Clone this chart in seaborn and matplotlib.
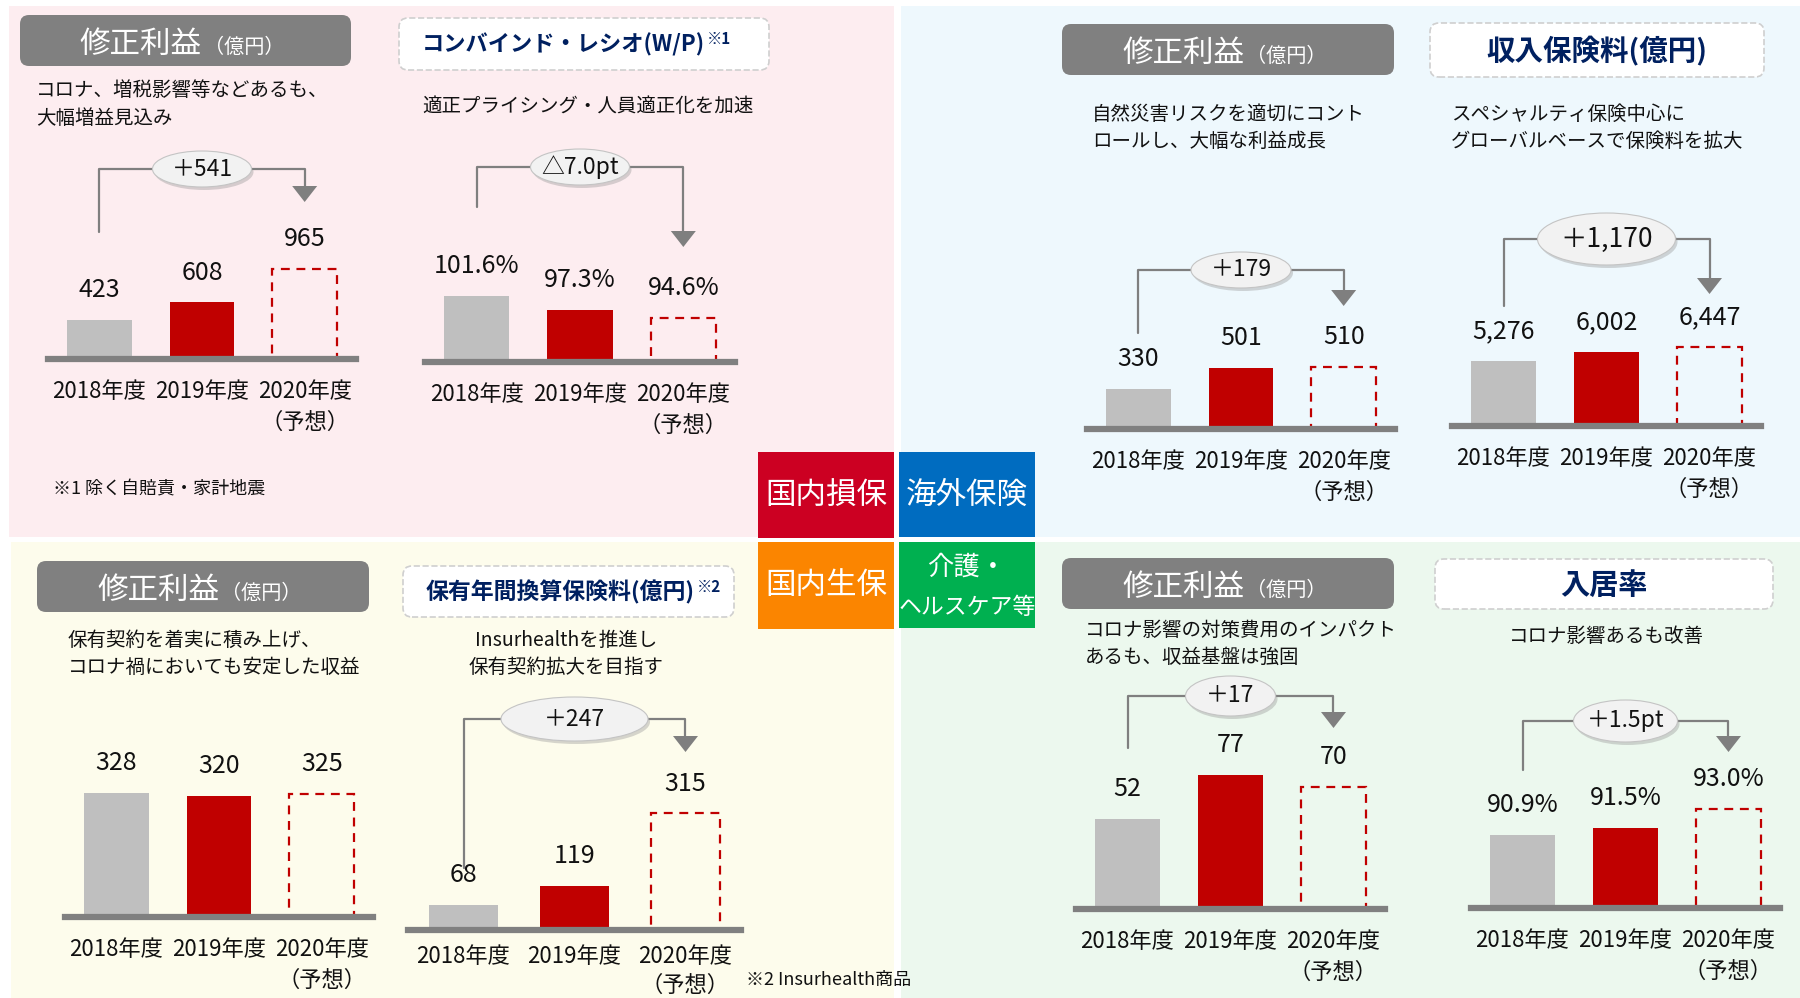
import pandas as pd
import seaborn as sns
import matplotlib.pyplot as plt
from matplotlib.patches import FancyBboxPatch, Ellipse, Rectangle
from matplotlib.transforms import blended_transform_factory

# === データ ===
years = ["2018年度", "2019年度", "2020年度\n（予想）"]

sonpo_profit = [423, 608, 965]
sonpo_cr = [101.6, 97.3, 94.6]
kaigai_profit = [330, 501, 510]
kaigai_premium = [5276, 6002, 6447]
seiho_profit = [328, 320, 325]
seiho_premium = [68, 119, 315]
kaigo_profit = [52, 77, 70]
kaigo_occupancy = [90.9, 91.5, 93.0]

diff_labels = ["＋541", "△7.0pt", "＋179", "＋1,170", "＋247", "＋17", "＋1.5pt"]
segments = ["国内損保", "海外保険", "国内生保", "介護・\nヘルスケア等"]

# === 見た目 ===
W, H = 1800, 998
GRAY = "#bfbfbf"
RED = "#c00000"
LINE = "#7f7f7f"
NAVY = "#002060"
AX_H = 260

sns.set_style("white")
plt.rcParams["font.family"] = ["Noto Sans CJK JP", "DejaVu Sans"]

fig = plt.figure(figsize=(W / 100, H / 100), dpi=100)
fig.patch.set_facecolor("white")


def fx(x):
    return x / W


def fy(y):
    return 1 - y / H


def rect(x0, y0, x1, y1, color, z=0):
    fig.add_artist(Rectangle((fx(x0), fy(y1)), (x1 - x0) / W, (y1 - y0) / H,
                             transform=fig.transFigure, facecolor=color,
                             edgecolor="none", zorder=z))


def rbox(x0, y0, x1, y1, **kw):
    fig.add_artist(FancyBboxPatch((x0 / 100, (H - y1) / 100), (x1 - x0) / 100, (y1 - y0) / 100,
                                  boxstyle="round,pad=0,rounding_size=0.09",
                                  transform=fig.dpi_scale_trans, zorder=1, **kw))


def gray_header(x0, y0, x1, y1):
    rbox(x0, y0, x1, y1, facecolor="#808080", edgecolor="none")
    cx, cy = (x0 + x1) / 2, (y0 + y1) / 2
    fig.text(fx(cx + 16), fy(cy + 12), "修正利益", ha="right", va="baseline",
             fontsize=22, color="white", zorder=2)
    fig.text(fx(cx + 18), fy(cy + 12), "（億円）", ha="left", va="baseline",
             fontsize=14.5, color="white", zorder=2)


def navy_header(x0, y0, x1, y1, text, size, sup=None, right=None):
    rbox(x0, y0, x1, y1, facecolor="white", edgecolor="#cfcfcf", linestyle="--", lw=1.2)
    cy = (y0 + y1) / 2
    if sup is None:
        fig.text(fx((x0 + x1) / 2), fy(cy + 1), text, ha="center", va="center",
                 fontsize=size, color=NAVY, fontweight="bold", zorder=2)
    else:
        fig.text(fx(right), fy(cy + 1), text, ha="right", va="center",
                 fontsize=size, color=NAVY, fontweight="bold", zorder=2)
        fig.text(fx(right + 2), fy(cy - 13), sup, ha="left", va="top",
                 fontsize=11, color=NAVY, fontweight="bold", zorder=2)


def desc(x, y, lines, ha="left", size=14):
    for j, s in enumerate(lines):
        fig.text(fx(x), fy(y + j * 27), s, ha=ha, va="center", fontsize=size, color="#111111")


def bar_panel(values, fmt, x0, x1, base, vmin, ppu, bracket=None, diff="", pad=15, spacing=1.45):
    ax = fig.add_axes([fx(x0), fy(base), (x1 - x0) / W, AX_H / H])
    df = pd.DataFrame({"年度": years, "値": values})
    sns.barplot(data=df, x="年度", y="値", hue="年度", palette=[GRAY, RED, RED],
                width=0.63, linewidth=0, saturation=1, legend=False, ax=ax)
    fc = ax.patches[2]
    fc.set_facecolor("none")
    fc.set_edgecolor(RED)
    fc.set_linewidth(1.6)
    fc.set_linestyle((0, (4, 3)))

    ax.set_facecolor("none")
    sns.despine(ax=ax, left=True)
    ax.spines["bottom"].set_color("#808080")
    ax.spines["bottom"].set_linewidth(4.5)
    ax.set_yticks([])
    ax.set_xlabel("")
    ax.set_ylabel("")
    ax.tick_params(axis="x", length=0, pad=pad, labelsize=16, labelcolor="#111111")
    for t in ax.get_xticklabels():
        t.set_linespacing(spacing)

    for i, v in enumerate(values):
        ax.annotate(fmt.format(v), (i, v), xytext=(0, 21.5), textcoords="offset points",
                    ha="center", va="center", fontsize=18, color="#111111")

    if bracket is not None:
        low, top, tip, ew, eh = bracket
        tr = blended_transform_factory(ax.transData, fig.transFigure)
        ppx = (x1 - x0) / 3
        ax.plot([0, 0, 2, 2], [fy(low), fy(top), fy(top), fy(tip - 14)],
                transform=tr, color=LINE, lw=1.6, clip_on=False)
        ax.fill([2 - 12.5 / ppx, 2 + 12.5 / ppx, 2], [fy(tip - 16), fy(tip - 16), fy(tip)],
                transform=tr, color=LINE, lw=0, clip_on=False)
        ax.add_patch(Ellipse((1 + 2 / ppx, fy(top + 3)), ew / ppx, eh / H, transform=tr,
                             facecolor="#9a9a9a", alpha=0.4, edgecolor="none",
                             clip_on=False, zorder=4))
        ax.add_patch(Ellipse((1, fy(top)), ew / ppx, eh / H, transform=tr,
                             facecolor="#f2f2f2", edgecolor="#c4c4c4", lw=0.8,
                             clip_on=False, zorder=5))
        ax.text(1, fy(top), diff, transform=tr, ha="center", va="center",
                fontsize=19 if eh > 45 else 16.5, color="#111111", zorder=6)

    ax.set_xlim(-0.5, 2.5)
    ax.set_ylim(vmin, vmin + AX_H / ppu)
    return ax


# === 背景 ===
rect(9, 6, 894, 537, "#fdedf0")
rect(901, 6, 1800, 537, "#eef8fd")
rect(11, 542, 894, 998, "#fdfcec")
rect(901, 542, 1800, 998, "#ecf8ee")

# === 中央のセグメント名 ===
rect(758, 452, 894, 538, "#cc0022", z=1)
rect(899, 452, 1035, 537, "#006cc0", z=1)
rect(758, 542, 894, 629, "#fb8500", z=1)
rect(899, 542, 1035, 628, "#00b050", z=1)
fig.text(fx(826), fy(495), segments[0], ha="center", va="center", fontsize=22, color="white")
fig.text(fx(967), fy(495), segments[1], ha="center", va="center", fontsize=22, color="white")
fig.text(fx(826), fy(586), segments[2], ha="center", va="center", fontsize=22, color="white")
seg4 = segments[3].split("\n")
fig.text(fx(967), fy(567), seg4[0], ha="center", va="center", fontsize=19, color="white")
fig.text(fx(967), fy(607), seg4[1], ha="center", va="center", fontsize=16.5, color="white")

# === 国内損保 ===
gray_header(20, 15, 351, 66)
desc(36, 91, ["コロナ、増税影響等などあるも、", "大幅増益見込み"])
bar_panel(sonpo_profit, "{:,.0f}", 48, 356, 359, 0, 0.093, (232, 169, 202, 99, 36), diff_labels[0])

navy_header(399, 18, 769, 70, "コンバインド・レシオ(W/P)", 16, sup="※1", right=705)
desc(588, 107, ["適正プライシング・人員適正化を加速"], ha="center")
bar_panel(sonpo_cr, "{:.1f}%", 425, 735, 362, 80.3, 3.086, (207, 167, 247, 99, 36), diff_labels[1])
fig.text(fx(53), fy(489), "※1 除く自賠責・家計地震", ha="left", va="center", fontsize=13, color="#111111")

# === 海外保険 ===
gray_header(1062, 24, 1394, 75)
desc(1092, 114, ["自然災害リスクを適切にコント", "ロールし、大幅な利益成長"])
bar_panel(kaigai_profit, "{:,.0f}", 1087, 1395, 429, 0, 0.122, (333, 270, 306, 100, 36), diff_labels[2])

navy_header(1430, 23, 1764, 77, "収入保険料(億円)", 20.5)
desc(1451, 114, ["スペシャルティ保険中心に", "グローバルベースで保険料を拡大"])
bar_panel(kaigai_premium, "{:,.0f}", 1452, 1761, 426, 0, 0.0123, (306, 239, 294, 138, 52), diff_labels[3])

# === 国内生保 ===
gray_header(37, 561, 369, 612)
desc(68, 640, ["保有契約を着実に積み上げ、", "コロナ禍においても安定した収益"])
bar_panel(seiho_profit, "{:,.0f}", 65, 373, 917, 0, 0.378)

navy_header(403, 566, 734, 617, "保有年間換算保険料(億円)", 16.5, sup="※2", right=695)
desc(566, 640, ["Insurhealthを推進し", "保有契約拡大を目指す"], ha="center")
bar_panel(seiho_premium, "{:,.0f}", 408, 741, 930, 0, 0.37, (868, 719, 752, 147, 44), diff_labels[4],
          pad=11, spacing=1.3)
fig.text(fx(746), fy(980), "※2 Insurhealth商品", ha="left", va="center", fontsize=13, color="#111111")

# === 介護・ヘルスケア等 ===
gray_header(1062, 558, 1394, 609)
desc(1085, 630, ["コロナ影響の対策費用のインパクト", "あるも、収益基盤は強固"])
bar_panel(kaigo_profit, "{:,.0f}", 1076, 1385, 909, 0, 1.74, (748, 696, 728, 90, 40), diff_labels[5])

navy_header(1435, 559, 1773, 609, "入居率", 21)
desc(1606, 637, ["コロナ影響あるも改善"], ha="center")
bar_panel(kaigo_occupancy, "{:.1f}%", 1471, 1780, 908, 85.06, 12.5, (770, 721, 752, 104, 42), diff_labels[6])

fig.savefig("out.png", dpi=100)
